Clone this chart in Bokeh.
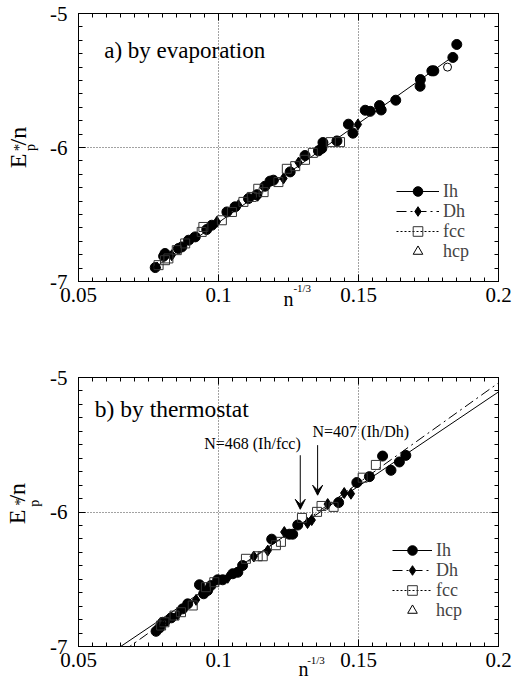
import numpy as np
from bokeh.plotting import figure
from bokeh.models import (Range1d, FixedTicker, LinearAxis, NumeralTickFormatter, Label,
                          Legend, LegendItem, Arrow, VeeHead)
from bokeh.layouts import column
from bokeh.embed import file_html
from bokeh.resources import INLINE

FONT = "Liberation Serif"

# ---------------- data: panel a (by evaporation) ----------------
a_ih_x = [0.0774, 0.0804, 0.0809, 0.0857, 0.0869, 0.0893, 0.0917, 0.0958, 0.0976, 0.1030,
          0.1059, 0.1107, 0.1137, 0.1166, 0.1184, 0.1196, 0.1256, 0.1309, 0.1357, 0.1369,
          0.1373, 0.1423, 0.1464, 0.1480, 0.1524, 0.1542, 0.1575, 0.1581, 0.1633, 0.1720,
          0.1721, 0.1762, 0.1769, 0.1837, 0.1851]
a_ih_y = [-6.896, -6.811, -6.791, -6.754, -6.742, -6.692, -6.667, -6.612, -6.580, -6.481,
          -6.443, -6.381, -6.352, -6.289, -6.251, -6.244, -6.182, -6.060, -6.025, -6.007,
          -5.963, -5.951, -5.826, -5.893, -5.722, -5.730, -5.687, -5.720, -5.647, -5.543,
          -5.493, -5.428, -5.428, -5.328, -5.231]
a_dh_x = [0.0833, 0.0905, 0.0994, 0.1071, 0.1140, 0.1232, 0.1286, 0.1498]
a_dh_y = [-6.804, -6.679, -6.555, -6.431, -6.360, -6.231, -6.112, -5.828]
a_fcc_x = [0.0786, 0.0809, 0.0821, 0.0851, 0.0881, 0.0940, 0.0946, 0.1012, 0.1048, 0.1089,
           0.1119, 0.1142, 0.1161, 0.1214, 0.1244, 0.1274, 0.1309, 0.1337, 0.1401, 0.1434]
a_fcc_y = [-6.878, -6.841, -6.828, -6.766, -6.716, -6.630, -6.593, -6.543, -6.481, -6.406,
           -6.369, -6.308, -6.333, -6.258, -6.159, -6.139, -6.092, -6.040, -5.960, -5.960]
a_hcp_x = [0.0781, 0.1125]
a_hcp_y = [-6.885, -6.371]
a_open_x = [0.1818]
a_open_y = [-5.400]
a_fit_x = [0.0770, 0.1845]
a_fit_y = [-6.900, -5.310]

# ---------------- data: panel b (by thermostat) ----------------
b_ih_x = [0.0777, 0.0789, 0.0801, 0.0831, 0.0872, 0.0890, 0.0932, 0.0947, 0.0961, 0.0973,
          0.0997, 0.1015, 0.1051, 0.1069, 0.1086, 0.1190, 0.1253, 0.1265, 0.1283, 0.1429,
          0.1494, 0.1539, 0.1586, 0.1616, 0.1646, 0.1669]
b_ih_y = [-6.887, -6.862, -6.820, -6.787, -6.720, -6.683, -6.541, -6.608, -6.584, -6.547,
          -6.504, -6.504, -6.459, -6.448, -6.398, -6.202, -6.165, -6.165, -6.097, -5.930,
          -5.781, -5.737, -5.584, -5.690, -5.628, -5.579]
b_dh_x = [0.0819, 0.0854, 0.0920, 0.1033, 0.1126, 0.1176, 0.1235, 0.1318, 0.1333, 0.1390,
          0.1449, 0.1473]
b_dh_y = [-6.807, -6.762, -6.653, -6.489, -6.331, -6.287, -6.149, -6.082, -6.060, -5.941,
          -5.859, -5.864]
b_fcc_x = [0.0795, 0.0807, 0.0843, 0.0866, 0.0908, 0.0955, 0.0985, 0.1098, 0.1140, 0.1158,
           0.1205, 0.1223, 0.1298, 0.1352, 0.1368, 0.1411, 0.1515, 0.1562]
b_fcc_y = [-6.844, -6.820, -6.770, -6.745, -6.695, -6.559, -6.522, -6.348, -6.329, -6.329,
           -6.247, -6.222, -6.044, -5.999, -5.955, -5.962, -5.745, -5.650]
b_hcp_x = [0.0803]
b_hcp_y = [-6.830]
b_fit_ih_x = [0.0600, 0.2000]
b_fit_ih_y = [-7.071, -5.107]
b_fit_dh_x = [0.0660, 0.2000]
b_fit_dh_y = [-7.034, -5.040]
arrow_x = [0.1292, 0.1354]
arrow_y_start = [-5.578, -5.503]
arrow_y_end = [-5.980, -5.875]
arrow_text = ["N=468 (Ih/fcc)", "N=407 (Ih/Dh)"]
legend_labels = ["Ih", "Dh", "fcc", "hcp"]

X_MAJOR = [0.05, 0.1, 0.15, 0.2]
Y_MAJOR = [-7, -6, -5]
X_MINOR = [float(v) for v in np.round(np.arange(0.05, 0.2001, 0.005), 4)]
Y_MINOR = [float(v) for v in np.round(np.arange(-7.0, -4.99, 0.1), 2)]

FW = 420
X0, X1, Y0, Y1 = 0.05, 0.2, -7.0, -5.0

DH_DASH = "10 4 2 4"
FCC_DASH = "2 2"
NAN2 = np.array([np.nan, np.nan])
EM, EN, THREE, FOUR, THIN = "\u2003", "\u2002", "\u2004", "\u2005", "\u2009"


def to_data(px, py, left, top, fh):
    x = X0 + (px - left) / FW * (X1 - X0)
    y = Y1 - (py - top) / fh * (Y1 - Y0)
    return x, y


def style_axis(ax, labels, xdir):
    ax.ticker = FixedTicker(ticks=X_MAJOR if xdir else Y_MAJOR,
                            minor_ticks=X_MINOR if xdir else Y_MINOR)
    ax.major_tick_in = 7
    ax.major_tick_out = 0
    ax.minor_tick_in = 4
    ax.minor_tick_out = 0
    ax.axis_line_color = "black"
    ax.major_tick_line_color = "black"
    ax.minor_tick_line_color = "black"
    if labels:
        ax.formatter = NumeralTickFormatter(format="0.0[0]" if xdir else "0")
        ax.major_label_text_font = FONT
        ax.major_label_text_font_size = "21px"
        ax.major_label_text_color = "black"
        ax.major_label_standoff = 6 if xdir else 11
    else:
        ax.major_label_text_font_size = "0px"
        ax.major_label_standoff = 0
        ax.major_label_overrides = {t: "" for t in (X_MAJOR if xdir else Y_MAJOR)}


def label_style(ax, text, size, standoff):
    ax.axis_label = text
    ax.axis_label_standoff = standoff
    ax.axis_label_text_font = FONT
    ax.axis_label_text_font_size = size
    ax.axis_label_text_font_style = "normal"
    ax.axis_label_text_color = "black"


def label_axis(p, side, text, size, standoff):
    # an axis without ticks or line, only used to carry one piece of an axis title
    ax = LinearAxis(ticker=FixedTicker(ticks=[], minor_ticks=[]),
                    major_tick_in=0, major_tick_out=0, minor_tick_in=0, minor_tick_out=0,
                    axis_line_color=None, major_tick_line_color=None,
                    minor_tick_line_color=None, major_label_text_font_size="0px",
                    major_label_standoff=0)
    label_style(ax, text, size, standoff)
    p.add_layout(ax, side)


def make_fig(left, right, top, fh, bottom, xl, yl):
    p = figure(frame_width=FW, frame_height=fh, min_border_left=left, min_border_right=right,
               min_border_top=top, min_border_bottom=bottom,
               x_range=Range1d(X0, X1), y_range=Range1d(Y0, Y1),
               output_backend="svg", toolbar_location=None)
    p.outline_line_color = "black"
    p.background_fill_color = "white"
    p.border_fill_color = "white"
    style_axis(p.xaxis[0], True, True)
    style_axis(p.yaxis[0], True, False)
    # x title  n^{-1/3}: superscript on the main axis, "n" on a bare second axis
    label_style(p.xaxis[0], xl[0], "11px", xl[1])
    label_axis(p, "below", xl[2], "20px", xl[3])
    # y title  E*_p/n: "p" on the main axis, "*" and "E /n" on bare axes further out
    label_style(p.yaxis[0], yl[0], "14px", yl[1])
    label_axis(p, "left", yl[2], "15px", yl[3])
    label_axis(p, "left", yl[4], "24px", yl[5])
    ax_top = LinearAxis()
    style_axis(ax_top, False, True)
    p.add_layout(ax_top, "above")
    ax_right = LinearAxis()
    style_axis(ax_right, False, False)
    p.add_layout(ax_right, "right")
    for g, t in ((p.xgrid[0], X_MAJOR), (p.ygrid[0], Y_MAJOR)):
        g.ticker = FixedTicker(ticks=t)
        g.grid_line_color = "#444444"
        g.grid_line_dash = "1 2"
        g.grid_line_width = 1
    return p


def add_markers(p, ih_x, ih_y, dh_x, dh_y, fcc_x, fcc_y, hcp_x, hcp_y):
    r_ih = p.scatter(ih_x, ih_y, marker="circle", size=10, fill_color="black", line_color="black")
    r_dh = p.scatter(dh_x, dh_y, marker="diamond", size=11, fill_color="black", line_color="black")
    r_fcc = p.scatter(fcc_x, fcc_y, marker="square", size=9, fill_color=None,
                      line_color="#333333", line_width=1)
    r_hcp = p.scatter(hcp_x, hcp_y, marker="triangle", size=7, fill_color=None,
                      line_color="black", line_width=1)
    return r_ih, r_dh, r_fcc, r_hcp


def add_legend(p, groups, x0, row_bottoms, gw):
    # one single-row legend per entry, so the row pitch can follow the original
    for lab, rends, yb in zip(legend_labels, groups, row_bottoms):
        leg = Legend(items=[LegendItem(label=lab, renderers=rends)],
                     location=(x0, yb), padding=0, margin=0, spacing=0,
                     glyph_width=gw, glyph_height=24, label_height=24, label_standoff=4,
                     label_text_font=FONT, label_text_font_size="18px",
                     border_line_color=None, background_fill_alpha=0)
        p.add_layout(leg)


def add_text(p, px, py, text, size, geo):
    x, y = to_data(px, py, *geo)
    p.add_layout(Label(x=x, y=y, text=text, text_font=FONT, text_font_size=size,
                       text_baseline="alphabetic", text_align="left", text_color="black"))


# ---------------- panel a ----------------
GA = (77, 13, 268)
pa = make_fig(77, 16, 13, 268, 59,
              [EM + EM + EN + "-1/3", -23, "n", -9],
              ["p", 9, "*", -6, "E" + THREE + "/n", -23])
fit_a = pa.line(a_fit_x, a_fit_y, line_color="black", line_width=1)
dh_line_a = pa.line(NAN2, NAN2, line_color="black", line_width=1, line_dash=DH_DASH)
fcc_line_a = pa.line(NAN2, NAN2, line_color="black", line_width=1, line_dash=FCC_DASH)
ra = add_markers(pa, a_ih_x, a_ih_y, a_dh_x, a_dh_y, a_fcc_x, a_fcc_y, a_hcp_x, a_hcp_y)
pa.scatter(a_open_x, a_open_y, marker="circle", size=8, fill_color=None, line_color="black")
add_legend(pa, [[fit_a, ra[0]], [dh_line_a, ra[1]], [fcc_line_a, ra[2]], [ra[3]]],
           318, [78, 58, 38, 18], 43)
add_text(pa, 102.7, 50, "a) by evaporation", "23px", GA)

# ---------------- panel b ----------------
GB = (71, 377, 269)
pb = make_fig(71, 22, 37, 269, 41,
              [EM * 5 + "-1/3", -16, EM + EN + "n", -11],
              [EM + FOUR + "p", 5, EM + THREE + "*", -3, EN + THIN + "E" + THREE + "/n", -21])
fit_b_ih = pb.line(b_fit_ih_x, b_fit_ih_y, line_color="black", line_width=1)
fit_b_dh = pb.line(b_fit_dh_x, b_fit_dh_y, line_color="black", line_width=1, line_dash=DH_DASH)
fcc_line_b = pb.line(NAN2, NAN2, line_color="black", line_width=1, line_dash=FCC_DASH)
rb = add_markers(pb, b_ih_x, b_ih_y, b_dh_x, b_dh_y, b_fcc_x, b_fcc_y, b_hcp_x, b_hcp_y)
add_legend(pb, [[fit_b_ih, rb[0]], [fit_b_dh, rb[1]], [fcc_line_b, rb[2]], [rb[3]]],
           314, [84, 64, 44, 24], 40)
for i in range(2):
    pb.add_layout(Arrow(x_start=arrow_x[i], y_start=arrow_y_start[i],
                        x_end=arrow_x[i], y_end=arrow_y_end[i],
                        line_color="black", line_width=1,
                        end=VeeHead(size=10, fill_color="black", line_color="black")))
add_text(pb, 196.7, 443.3, arrow_text[0], "16px", GB)
add_text(pb, 305, 430.7, arrow_text[1], "16px", GB)
add_text(pb, 87.3, 408.3, "b) by thermostat", "23.5px", GB)

layout = column(pa, pb, spacing=0)
open("out.html", "w").write(file_html(layout, INLINE))
